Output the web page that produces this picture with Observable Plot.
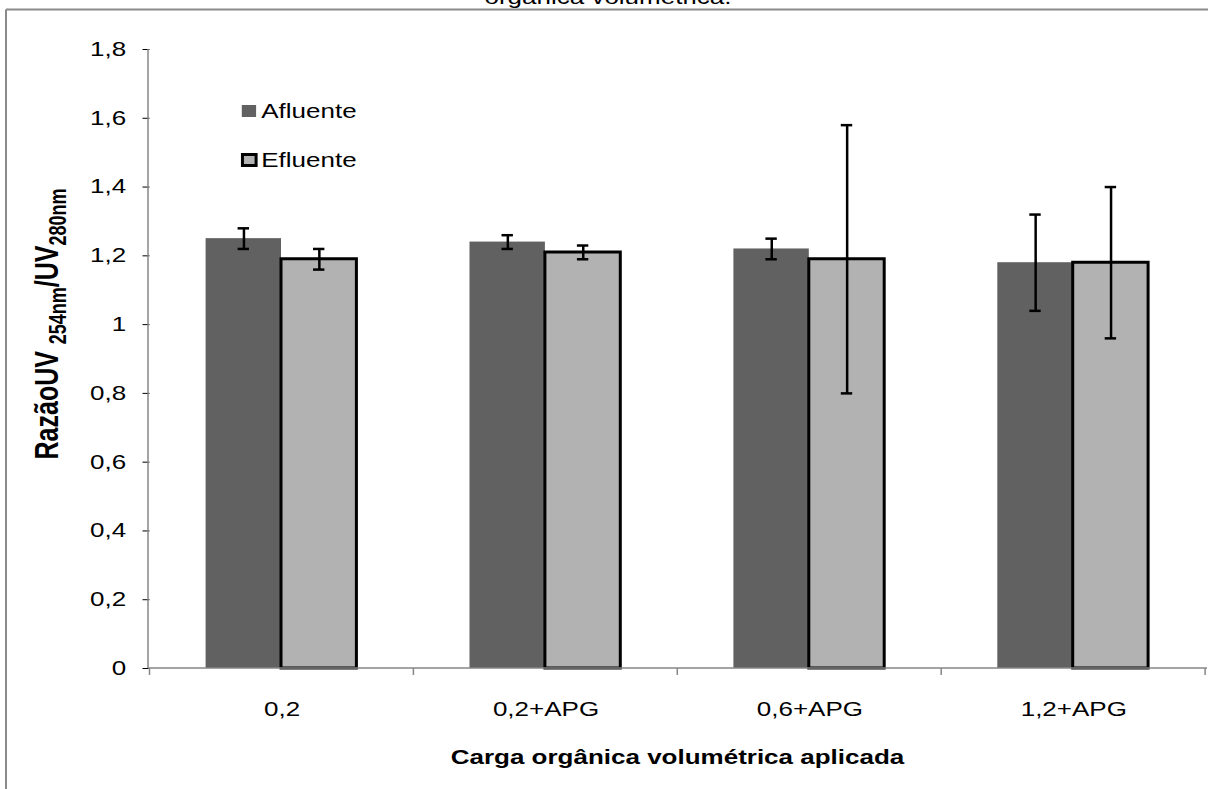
<!DOCTYPE html>
<html><head><meta charset="utf-8">
<script src="https://cdn.jsdelivr.net/npm/d3@7"></script>
<script src="https://cdn.jsdelivr.net/npm/@observablehq/plot@0.6"></script>
<style>
body{margin:0;background:#fff;}
#chart svg path, #chart svg line, #chart svg rect{vector-effect:non-scaling-stroke;}
</style></head><body><div id="chart"></div>
<script>
const categories = ["0,2", "0,2+APG", "0,6+APG", "1,2+APG"];
const series = ["Afluente", "Efluente"];
const afluente = [1.25, 1.24, 1.22, 1.18];
const afluenteErr = [0.03, 0.02, 0.03, 0.14];
const efluente = [1.19, 1.21, 1.19, 1.18];
const efluenteErr = [0.03, 0.02, 0.39, 0.22];
const yTicks = [0, 0.2, 0.4, 0.6, 0.8, 1, 1.2, 1.4, 1.6, 1.8];
const seriesColors = ["#616161", "#b2b2b2"];
const titleText = "orgânica volumétrica.";
const xTitle = "Carga orgânica volumétrica aplicada";

const W = 1208, H = 789, K = 1.3;
const W0 = W / K;
const rows = categories.flatMap((c, i) => [
  {cat: c, serie: series[0], v: afluente[i], e: afluenteErr[i]},
  {cat: c, serie: series[1], v: efluente[i], e: efluenteErr[i]}
]);
const bandUnits = 76 / K;
const capInset = (bandUnits - 12 / K) / 2;
const font = "'Liberation Sans', Arial, sans-serif";

const plot = Plot.plot({
  width: W0, height: H,
  marginLeft: 148 / K, marginRight: 1 / K, marginTop: 49, marginBottom: 121,
  style: {fontSize: "20px", fontFamily: font, background: "white", color: "black"},
  fx: {domain: categories, padding: 0, label: null, tickSize: 0, tickPadding: 33, axis: "bottom"},
  x: {domain: series, axis: null, paddingInner: 0, paddingOuter: 0.742},
  y: {domain: [0, 1.8], ticks: yTicks, tickFormat: d => String(d).replace(".", ","), tickSize: 7 / K, tickPadding: 13, label: null},
  color: {domain: series, range: seriesColors},
  marks: [
    Plot.barY(rows.filter(d => d.serie === series[0]), {fx: "cat", x: "serie", y: "v", fill: "serie"}),
    Plot.barY(rows.filter(d => d.serie === series[1]), {fx: "cat", x: "serie", y: "v", fill: "serie", stroke: "black", strokeWidth: 3}),
    Plot.ruleX(rows, {fx: "cat", x: "serie", y1: d => d.v - d.e, y2: d => d.v + d.e, stroke: "black", strokeWidth: 2.5}),
    Plot.tickY(rows, {fx: "cat", x: "serie", y: d => d.v + d.e, stroke: "black", strokeWidth: 2.5, insetLeft: capInset, insetRight: capInset}),
    Plot.tickY(rows, {fx: "cat", x: "serie", y: d => d.v - d.e, stroke: "black", strokeWidth: 2.5, insetLeft: capInset, insetRight: capInset})
  ]
});

const svg = d3.select(plot);
svg.attr("width", W).attr("height", H).attr("preserveAspectRatio", "none")
   .style("max-width", "none").style("width", W + "px").style("height", H + "px");
svg.selectAll('[aria-label="y-axis tick"]').attr("stroke", "#868686");

const fxs = plot.scale("fx"), ys = plot.scale("y");
const y0 = ys.apply(0), yTop = ys.apply(1.8);
const left = 148 / K, right = W0 - 1 / K;
const axisColor = "#868686";
const g = svg.append("g").attr("stroke", axisColor).attr("stroke-width", 1.5);
g.append("line").attr("x1", left).attr("x2", right).attr("y1", y0).attr("y2", y0);
g.append("line").attr("x1", left).attr("x2", left).attr("y1", yTop).attr("y2", y0);
const bounds = categories.map(c => fxs.apply(c)).concat([fxs.apply(categories[categories.length - 1]) + fxs.bandwidth]);
bounds.forEach(b => g.append("line").attr("x1", b).attr("x2", b).attr("y1", y0).attr("y2", y0 + 7));

// outer frame
const fr = svg.append("g").attr("stroke", "#8a8a8a").attr("stroke-width", 2);
fr.append("line").attr("x1", 6 / K).attr("x2", W0 + 5).attr("y1", 9.5).attr("y2", 9.5);
fr.append("line").attr("x1", 6 / K).attr("x2", 6 / K).attr("y1", 9.5).attr("y2", H + 5);

// title (partially visible, as in the reference)
svg.append("text").attr("x", 608 / K).attr("y", 4).attr("text-anchor", "middle")
   .attr("font-size", 20).attr("fill", "black").text(titleText);

// x title
svg.append("text").attr("x", (left + right) / 2).attr("y", 764).attr("text-anchor", "middle")
   .attr("font-size", 20).attr("font-weight", "bold").attr("fill", "black").text(xTitle);

// y title
const yt = svg.append("text").attr("transform", `translate(${58 / K},324) rotate(-90)`)
   .attr("text-anchor", "middle").attr("font-weight", "bold").attr("font-size", 25).attr("fill", "black");
yt.append("tspan").text("RazãoUV ");
yt.append("tspan").attr("font-size", 18).attr("dy", 6).text("254nm");
yt.append("tspan").attr("dy", -6).text("/UV");
yt.append("tspan").attr("font-size", 18).attr("dy", 6).text("280nm");

// legend
const lg = svg.append("g").attr("text-anchor", "start");
lg.append("rect").attr("x", 186).attr("y", 105).attr("width", 11).attr("height", 12).attr("fill", seriesColors[0]);
lg.append("text").attr("x", 201).attr("y", 118).attr("font-size", 20).attr("fill", "black").attr("text-anchor", "start").text(series[0]);
lg.append("rect").attr("x", 186.5).attr("y", 154.5).attr("width", 10.5).attr("height", 11)
  .attr("fill", seriesColors[1]).attr("stroke", "black").attr("stroke-width", 3);
lg.append("text").attr("x", 201).attr("y", 167).attr("font-size", 20).attr("fill", "black").attr("text-anchor", "start").text(series[1]);

document.getElementById("chart").appendChild(plot);
</script></body></html>
